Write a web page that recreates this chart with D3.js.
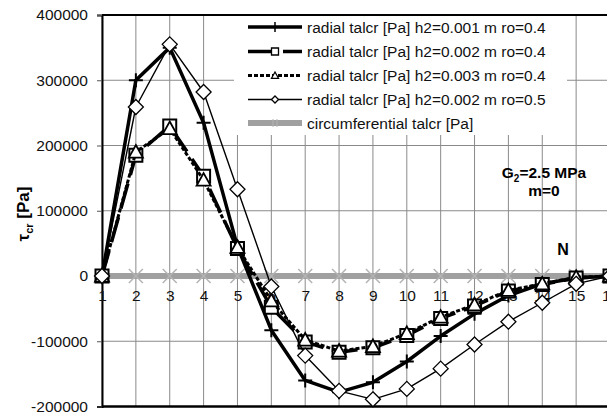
<!DOCTYPE html>
<html>
<head>
<meta charset="utf-8">
<script src="https://cdn.jsdelivr.net/npm/d3@7/dist/d3.min.js"></script>
<style>
    body { margin: 0; background: #fff; }
    svg { display: block; }
    text { font-family: "Liberation Sans", Arial, sans-serif; }
</style>
</head>
<body>
<div id="chart"></div>
<script>
// chart values
var categories = [1, 2, 3, 4, 5, 6, 7, 8, 9, 10, 11, 12, 13, 14, 15, 16];
var yTicks = [-200000, -100000, 0, 100000, 200000, 300000, 400000];
var radialH1R4 = [0, 300000, 350000, 235000, 45000, -83000, -160000, -178000, -163000, -131000, -92000, -58000, -30000, -12000, -3000, 0];
var radialH2R4 = [0, 185000, 230000, 153000, 42000, -48000, -101000, -117000, -110000, -91000, -65000, -46000, -23000, -13000, -3000, 0];
var radialH3R4 = [0, 190000, 226000, 147000, 44000, -38000, -98000, -115000, -108000, -88000, -63000, -44000, -22000, -12000, -2000, 0];
var radialH2R5 = [0, 259000, 355000, 282000, 133000, -16000, -122000, -176000, -189000, -173000, -142000, -105000, -70000, -41000, -12000, 0];
var circumferential = [0, 0, 0, 0, 0, 0, 0, 0, 0, 0, 0, 0, 0, 0, 0, 0];
var legendLabels = [
    'radial talcr [Pa] h2=0.001 m ro=0.4',
    'radial talcr [Pa] h2=0.002 m ro=0.4',
    'radial talcr [Pa] h2=0.003 m ro=0.4',
    'radial talcr [Pa] h2=0.002 m ro=0.5',
    'circumferential talcr [Pa]'
];

var width = 607;
var height = 414;
var plotLeft = 102, plotRight = 610, plotTop = 15, plotBottom = 406.5;
var fontSize = 15.5;

var svg = d3.select('#chart')
    .append('svg')
    .attr('width', width)
    .attr('height', height);

var x = d3.scalePoint()
    .domain(categories)
    .range([plotLeft, plotRight]);
var y = d3.scaleLinear()
    .domain([-200000, 400000])
    .range([plotBottom, plotTop]);

// gridlines
svg.append('g')
    .selectAll('line')
    .data(yTicks)
    .enter()
    .append('line')
    .attr('x1', plotLeft).attr('x2', plotRight)
    .attr('y1', d => y(d)).attr('y2', d => y(d))
    .attr('stroke', '#8a8a8a').attr('stroke-width', 1);
svg.append('g')
    .selectAll('line')
    .data(categories)
    .enter()
    .append('line')
    .attr('x1', d => x(d)).attr('x2', d => x(d))
    .attr('y1', plotTop).attr('y2', plotBottom)
    .attr('stroke', '#8a8a8a').attr('stroke-width', 1);

// frame
svg.append('line').attr('x1', plotLeft).attr('x2', plotRight).attr('y1', plotTop).attr('y2', plotTop)
    .attr('stroke', '#000').attr('stroke-width', 2);
svg.append('line').attr('x1', plotLeft).attr('x2', plotRight).attr('y1', plotBottom).attr('y2', plotBottom)
    .attr('stroke', '#000').attr('stroke-width', 2.5);

// y axis, plain hyphen for negatives like the original
var yAxis = svg.append('g')
    .attr('transform', 'translate(' + plotLeft + ',0)')
    .call(d3.axisLeft(y).tickValues(yTicks).tickSize(5).tickPadding(9).tickFormat(d => String(d)));
yAxis.select('.domain').attr('stroke', '#000').attr('stroke-width', 2);
yAxis.selectAll('.tick line').attr('stroke', '#555');
yAxis.selectAll('text').attr('font-size', fontSize).attr('fill', '#111')
    .style('font-family', '"Liberation Sans", Arial, sans-serif');

// category labels sit under the zero line
var xAxis = svg.append('g')
    .attr('transform', 'translate(0,' + y(0) + ')')
    .call(d3.axisBottom(x).tickSize(0).tickPadding(14));
xAxis.select('.domain').remove();
xAxis.selectAll('text').attr('font-size', fontSize).attr('fill', '#111')
    .style('font-family', '"Liberation Sans", Arial, sans-serif');

// y title
var yTitle = svg.append('text')
    .attr('transform', 'translate(29,214) rotate(-90)')
    .attr('text-anchor', 'middle')
    .attr('font-size', 17)
    .attr('font-weight', 'bold');
yTitle.append('tspan').text('\u03c4');
yTitle.append('tspan').attr('font-size', 11).attr('dy', 4).text('cr');
yTitle.append('tspan').attr('dy', -4).text(' [Pa]');

// legend box hides the grid behind it
svg.append('rect')
    .attr('x', 234).attr('y', 16)
    .attr('width', 333).attr('height', 119)
    .attr('fill', '#fff');

function markerPath(kind, s) {
    var h = s / 2;
    if (kind === 'plus') return 'M' + (-h) + ',0H' + h + 'M0,' + (-h) + 'V' + h;
    if (kind === 'square') return 'M' + (-h) + ',' + (-h) + 'H' + h + 'V' + h + 'H' + (-h) + 'Z';
    if (kind === 'triangle') return 'M0,' + (-h) + 'L' + h + ',' + (h * 0.8) + 'H' + (-h) + 'Z';
    if (kind === 'diamond') return 'M0,' + (-h) + 'L' + h + ',0L0,' + h + 'L' + (-h) + ',0Z';
    if (kind === 'star') return 'M' + (-h) + ',' + (-h) + 'L' + h + ',' + h + 'M' + (-h) + ',' + h + 'L' + h + ',' + (-h);
    return '';
}

var series = [
    {name: legendLabels[4], values: circumferential, color: '#a0a0a0', width: 6, dash: null, marker: 'star', mcolor: '#b4b4b4', mwidth: 1.5, mfill: 'none', size: 14},
    {name: legendLabels[0], values: radialH1R4, color: '#000', width: 3.5, dash: null, marker: 'plus', mcolor: '#000', mwidth: 2, mfill: 'none', size: 14},
    {name: legendLabels[1], values: radialH2R4, color: '#000', width: 3.5, dash: '26,9', marker: 'square', mcolor: '#000', mwidth: 2, mfill: '#fff', size: 13},
    {name: legendLabels[2], values: radialH3R4, color: '#000', width: 3, dash: '4,2', marker: 'triangle', mcolor: '#000', mwidth: 1.8, mfill: '#fff', size: 14},
    {name: legendLabels[3], values: radialH2R5, color: '#000', width: 1.4, dash: null, marker: 'diamond', mcolor: '#000', mwidth: 1.3, mfill: '#fff', size: 15}
];

series.forEach(function(s) {
    var line = d3.line()
        .x((d, i) => x(categories[i]))
        .y(d => y(d));
    svg.append('path')
        .datum(s.values)
        .attr('d', line)
        .attr('fill', 'none')
        .attr('stroke', s.color)
        .attr('stroke-width', s.width)
        .attr('stroke-linejoin', 'round')
        .attr('stroke-dasharray', s.dash);
    svg.append('g')
        .selectAll('path')
        .data(s.values)
        .enter()
        .append('path')
        .attr('transform', (d, i) => 'translate(' + x(categories[i]) + ',' + y(d) + ')')
        .attr('d', markerPath(s.marker, s.size))
        .attr('fill', s.mfill)
        .attr('stroke', s.mcolor)
        .attr('stroke-width', s.mwidth);
});

// legend
var legendOrder = [series[1], series[2], series[3], series[4], series[0]];
var legendY = [27, 51.5, 75.5, 99.5, 123];
var legend = svg.append('g');
legendOrder.forEach(function(s, i) {
    var g = legend.append('g').attr('transform', 'translate(0,' + legendY[i] + ')');
    g.append('line')
        .attr('x1', 248).attr('x2', 302)
        .attr('stroke', s.color)
        .attr('stroke-width', s.width)
        .attr('stroke-dasharray', s.dash);
    if (s.marker === 'star') {
        g.append('path').attr('transform', 'translate(275,0)')
            .attr('d', 'M-2,-4V4M2,-4V4')
            .attr('stroke', s.mcolor).attr('stroke-width', 1);
    } else {
        g.append('path')
            .attr('transform', 'translate(275,0)')
            .attr('d', s.marker === 'plus' ? 'M0,-5V5' : markerPath(s.marker, 7))
            .attr('fill', s.mfill)
            .attr('stroke', s.mcolor)
            .attr('stroke-width', s.marker === 'plus' ? 1.5 : 1.3);
    }
    g.append('text')
        .attr('x', 307).attr('y', 0).attr('dy', '0.36em')
        .attr('font-size', fontSize)
        .attr('fill', '#111')
        .text(s.name);
});

// annotations
var g2 = svg.append('text')
    .attr('x', 544).attr('y', 178)
    .attr('text-anchor', 'middle')
    .attr('font-size', fontSize)
    .attr('font-weight', 'bold');
g2.append('tspan').text('G');
g2.append('tspan').attr('font-size', 10).attr('dy', 4).text('2');
g2.append('tspan').attr('dy', -4).text('=2.5 MPa');
svg.append('text')
    .attr('x', 544).attr('y', 196)
    .attr('text-anchor', 'middle')
    .attr('font-size', fontSize)
    .attr('font-weight', 'bold')
    .text('m=0');
svg.append('text')
    .attr('x', 563).attr('y', 255)
    .attr('text-anchor', 'middle')
    .attr('font-size', 16)
    .attr('font-weight', 'bold')
    .text('N');
</script>
</body>
</html>
